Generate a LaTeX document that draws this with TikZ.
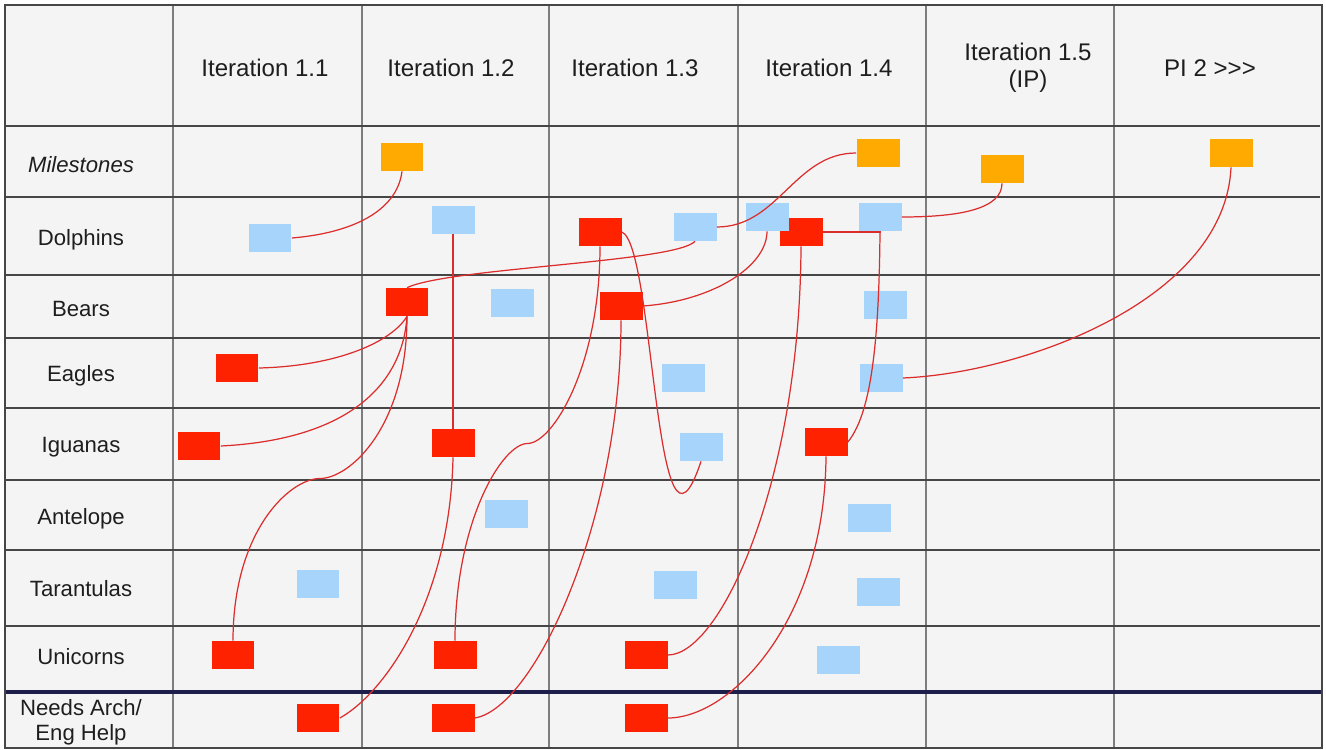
\documentclass[tikz,border=0pt]{standalone}
\usepackage{fontspec}
\setmainfont{Liberation Sans}
\usetikzlibrary{calc}
\definecolor{cellbg}{RGB}{244,244,244}
\definecolor{gridcol}{RGB}{70,70,70}
\definecolor{colline}{RGB}{125,125,125}
\definecolor{navyline}{RGB}{30,30,75}
\definecolor{msorange}{RGB}{255,170,0}
\definecolor{depred}{RGB}{255,34,0}
\definecolor{storyblue}{RGB}{166,212,250}
\definecolor{linkred}{RGB}{220,45,45}
\definecolor{labeltext}{RGB}{30,30,30}

\begin{document}
\begin{tikzpicture}[x=0.02cm, y=0.02cm,
  card/.style={minimum width=0.86cm, minimum height=0.56cm, inner sep=0pt},
  ms/.style={card, fill=msorange},
  dep/.style={card, fill=depred},
  story/.style={card, fill=storyblue},
  link/.style={linkred, line width=0.7pt},
  hdr/.style={font=\fontsize{13.7}{15.5}\selectfont, text=labeltext, align=center},
  team/.style={font=\fontsize{12.6}{14}\selectfont, text=labeltext, align=center}]
  \useasboundingbox (0,0) rectangle (1326,-750);
  \fill[cellbg] (5,-5) rectangle (1322,-748);

  % grid
  \foreach \x in {173,362,549,738,926,1114}
    \draw[colline, line width=0.9pt] (\x,-5) -- (\x,-748);
  \foreach \y in {126,197,275,338,408,480,550,626}
    \draw[gridcol, line width=1.3pt] (5,-\y) -- (1320,-\y);
  \draw[navyline, line width=2.8pt] (5,-692) -- (1322,-692);
  \draw[gridcol, line width=1pt] (5,-5) rectangle (1322,-748);

  % headers and teams
  \foreach \x/\txt [count=\i] in {265/Iteration 1.1, 451/Iteration 1.2,
      635/Iteration 1.3, 829/Iteration 1.4, 1028/Iteration 1.5\\(IP), 1210/PI 2 >{}>{}>}
    \node[hdr] (head\i) at (\x,-68) {\txt};
  \foreach \y/\txt [count=\i] in {165/\textit{Milestones}, 240/Dolphins, 309/Bears,
      376/Eagles, 447/Iguanas, 519/Antelope, 589/Tarantulas, 657/Unicorns}
    \node[team] (team\i) at (81,-\y) {\txt};
  \node[team] (team9) at (81,-722) {Needs Arch/\\Eng Help};

  % cards
  \foreach \n/\x/\y in {m1/402/157, m2/878/153, m3/1002/169, m4/1231/153}
    \node[ms] (\n) at (\x,-\y) {};
  \foreach \n/\x/\y in {d3/600/232, d6/801/232, b1/407/302, b3/621/306, e1/237/368,
      i1/199/446, i2/453/443, i4/826/442, u1/233/655, u2/455/655, u3/646/655,
      n1/318/718, n2/453/718, n3/646/718}
    \node[dep] (\n) at (\x,-\y) {};
  \foreach \n/\x/\y in {d1/270/238, d2/453/220, d4/695/227, d5/767/217, d7/880/217,
      b2/512/303, b4/885/305, e2/683/378, e3/881/378, i3/701/447, a1/506/514,
      a2/869/518, t1/318/584, t2/675/585, t3/878/592, u4/838/660}
    \node[story] (\n) at (\x,-\y) {};

  % dependencies
  \draw[link] (d1.east) .. controls +(60,5) and +(-5,-40) .. (m1.south);
  \draw[link] (d2.south) -- (i2.north);
  \draw[link] (d4.east) to[out=0, in=180] (m2.west);
  \draw[link] (d4.south) .. controls +(-20,-21) and +(43,20) .. (b1.north);
  \draw[link] (d5.south) .. controls +(0,-35) and +(70,5) .. (b3.east);
  \draw[link] (d3.east) .. controls +(33,-13) and +(-46,-139) .. (i3.south);
  \draw[link] (d3.south) .. controls +(0,-120) and +(25,0) .. ($(d3.south)!.5!(u2.north)$)
    .. controls +(-25,0) and +(0,120) .. (u2.north);
  \draw[link] (b1.south) .. controls +(0,-110) and +(30,0) .. ($(b1.south)!.5!(u1.north)$)
    .. controls +(-30,0) and +(0,110) .. (u1.north);
  \draw[link] (b1.south) .. controls +(-15,-25) and +(80,2) .. (e1.east);
  \draw[link] (b1.south) .. controls +(-5,-74) and +(120,6) .. (i1.east);
  \draw[link] (i2.south) .. controls +(-3,-143) and +(45,25) .. (n1.east);
  \draw[link] (b3.south) .. controls +(0,-200) and +(60,10) .. (n2.east);
  \draw[link] (d6.south) .. controls +(-1,-234) and +(53,0) .. (u3.east);
  \draw[link] (i4.south) .. controls +(-1,-164) and +(63,0) .. (n3.east);
  \draw[link] (d6.east) -| (d7.south);
  \draw[link] (d7.south) .. controls +(-1,-119) and +(22,27) .. (i4.east);
  \draw[link] (d7.east) .. controls +(60,0) and +(0,-25) .. (m3.south);
  \draw[link] (e3.east) .. controls +(120,5) and +(-6,-133) .. (m4.south);
\end{tikzpicture}
\end{document}
